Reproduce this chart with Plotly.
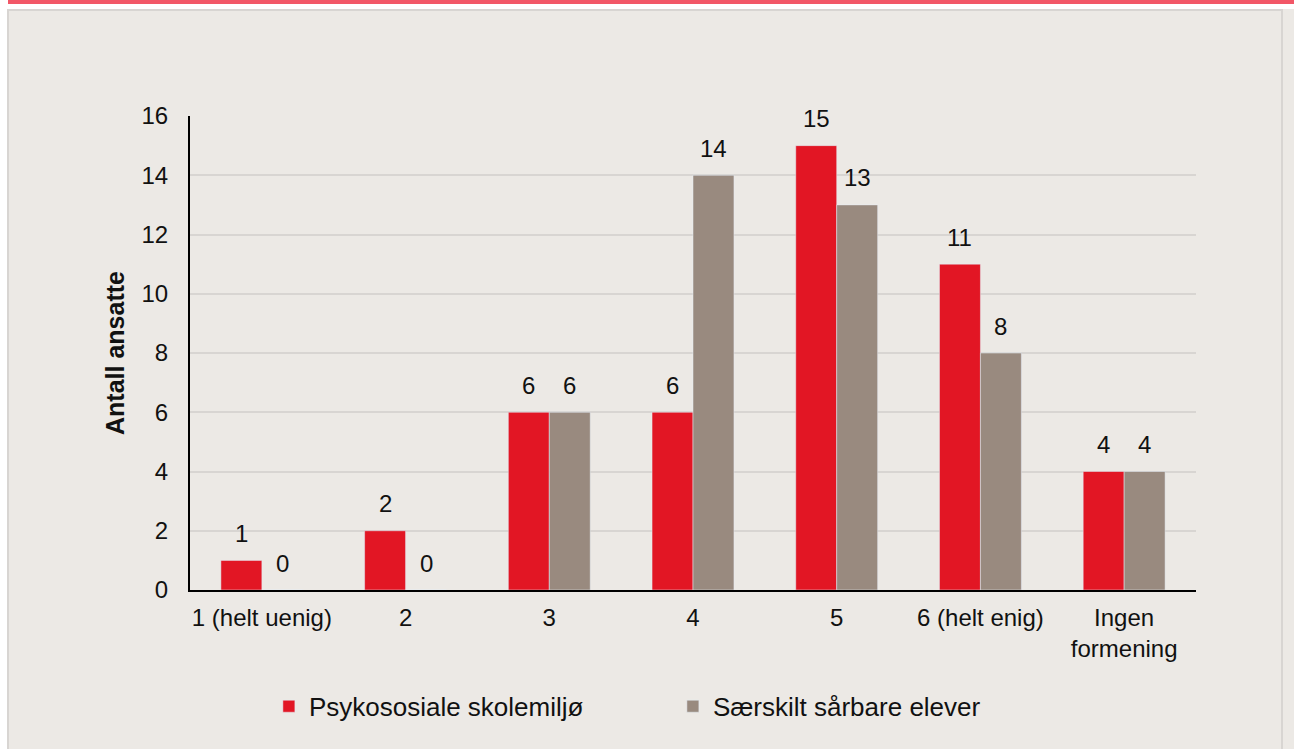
import plotly.graph_objects as go

# data
categories = ["1 (helt uenig)", "2", "3", "4", "5", "6 (helt enig)", "Ingen<br>formening"]
psykososiale = [1, 2, 6, 6, 15, 11, 4]
saarbare = [0, 0, 6, 14, 13, 8, 4]
series_names = ["Psykososiale skolemiljø", "Særskilt sårbare elever"]
y_ticks = [0, 2, 4, 6, 8, 10, 12, 14, 16]

RED = "#E21624"
GREY = "#998A7F"
BG = "#ECE9E5"
FONT = "Liberation Sans, Arial, sans-serif"

fig = go.Figure()
fig.add_trace(go.Bar(x=categories, y=psykososiale, name=series_names[0], marker_color=RED))
fig.add_trace(go.Bar(x=categories, y=saarbare, name=series_names[1], marker_color=GREY))

# value labels sit a bit higher above the bars than plotly's "outside" text
# (x given as category index, since "2", "3"... would be read as indices anyway)
annotations = []
for values, shift in [(psykososiale, -20.5), (saarbare, 20.5)]:
    for i, v in enumerate(values):
        annotations.append(dict(x=i, y=v, text=str(v), showarrow=False,
                                xshift=shift, yshift=27, yanchor="middle",
                                font=dict(size=24, color="#111111")))

# page decoration: white margin, red stripe at the top, panel borders
W, H = 1294, 749
L, R, T, B = 190, 98, 116, 159
pw, ph = W - L - R, H - T - B


def px_x(x):
    return (x - L) / pw


def px_y(y):
    return (H - B - y) / ph


shapes = [
    dict(type="rect", xref="paper", yref="paper", x0=px_x(0), x1=px_x(W), y0=px_y(9), y1=px_y(0),
         fillcolor="white", line_width=0, layer="below"),
    dict(type="rect", xref="paper", yref="paper", x0=px_x(0), x1=px_x(7), y0=px_y(H), y1=px_y(0),
         fillcolor="white", line_width=0, layer="below"),
    dict(type="rect", xref="paper", yref="paper", x0=px_x(8), x1=px_x(W), y0=px_y(4), y1=px_y(0),
         fillcolor="#F25767", line_width=0, layer="below"),
    dict(type="rect", xref="paper", yref="paper", x0=px_x(8), x1=px_x(1282), y0=px_y(H + 5), y1=px_y(10),
         fillcolor="rgba(0,0,0,0)", line=dict(color="#D8D5D2", width=2), layer="below"),
]

fig.update_layout(
    width=W, height=H,
    margin=dict(l=L, r=R, t=T, b=B),
    paper_bgcolor=BG, plot_bgcolor=BG,
    font=dict(family=FONT, size=24, color="#111111"),
    barmode="group", bargap=0.43, bargroupgap=0,
    shapes=shapes, annotations=annotations,
    legend=dict(orientation="h", xref="container", x=0.520, xanchor="center",
                yref="container", y=0.057, yanchor="middle",
                font=dict(size=26), entrywidth=359, bgcolor="rgba(0,0,0,0)"),
    showlegend=True,
)
fig.update_yaxes(range=[0, 16], tickvals=y_ticks, showgrid=True, gridcolor="#D8D5D2", gridwidth=2,
                 showline=True, linecolor="black", linewidth=2, zeroline=False,
                 ticks="outside", ticklen=15, tickcolor="rgba(0,0,0,0)",
                 title=dict(text="<b>Antall ansatte</b>", font=dict(size=25), standoff=10))
fig.update_xaxes(showline=True, linecolor="black", linewidth=2,
                 ticks="outside", ticklen=5, tickcolor="rgba(0,0,0,0)")

# drop the default 8px body margin so the figure fills the window
fig.write_html("out.html", config={"displayModeBar": False},
               post_script="document.body.style.margin='0px';")
